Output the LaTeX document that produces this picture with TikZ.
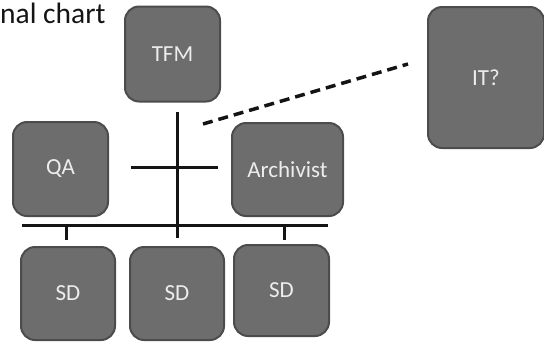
\documentclass[tikz,border=0pt]{standalone}
\usepackage{fontspec}
\setmainfont{Carlito}
\definecolor{boxfill}{HTML}{6D6D6D}
\definecolor{boxedge}{HTML}{4C4C4C}
\definecolor{boxtext}{HTML}{EDEDED}
\definecolor{inkline}{HTML}{141414}
\begin{document}
\begin{tikzpicture}[x=1pt,y=-1pt,
  orgbox/.style={draw=boxedge, line width=2pt, fill=boxfill, rounded corners=14pt,
    text=boxtext, font=\fontsize{23}{27}\selectfont, inner sep=0pt},
  link/.style={draw=inkline, line width=3pt},
  dotlink/.style={draw=inkline, line width=3.5pt, dash pattern=on 10pt off 6pt}]
\useasboundingbox (0,0) rectangle (544,341);

% title
\node[anchor=base west, inner sep=0pt, text=inkline, font=\fontsize{29.5}{34}\selectfont] (title) at (0,23) {nal chart};

% boxes
\node[orgbox, minimum width=95pt, minimum height=95pt] (tfm) at (172.5,54) {TFM};
\node[orgbox, minimum width=95pt, minimum height=94pt] (qa) at (60.5,169) {QA};
\node[orgbox, minimum width=111pt, minimum height=93pt] (arch) at (287.5,169.5) {Archivist};
\node[orgbox, minimum width=94pt, minimum height=93pt] (sd1) at (68,293.5) {SD};
\node[orgbox, minimum width=94pt, minimum height=93pt] (sd2) at (177,293.5) {SD};
\node[orgbox, minimum width=95pt, minimum height=91pt] (sd3) at (281.5,290.5) {SD};
\node[orgbox, minimum width=116pt, minimum height=141pt] (it) at (486,77.5) {IT?};

% connector end points
\coordinate (vtop) at (177,112);
\coordinate (vbot) at (177,238);
\coordinate (crossL) at (131,167);
\coordinate (crossR) at (218,167);
\coordinate (busL) at (22,225);
\coordinate (busR) at (328,225);
\coordinate (dropAt) at (66,225);
\coordinate (dropAb) at (66,240);
\coordinate (dropBt) at (284,225);
\coordinate (dropBb) at (284,240);
\coordinate (dashA) at (203,124);
\coordinate (dashB) at (408,64);

% connectors
\draw[link] (vtop) -- (vbot);
\draw[link] (crossL) -- (crossR);
\draw[link] (busL) -- (busR);
\draw[link] (dropAt) -- (dropAb);
\draw[link] (dropBt) -- (dropBb);
\draw[dotlink] (dashA) -- (dashB);
\end{tikzpicture}
\end{document}
